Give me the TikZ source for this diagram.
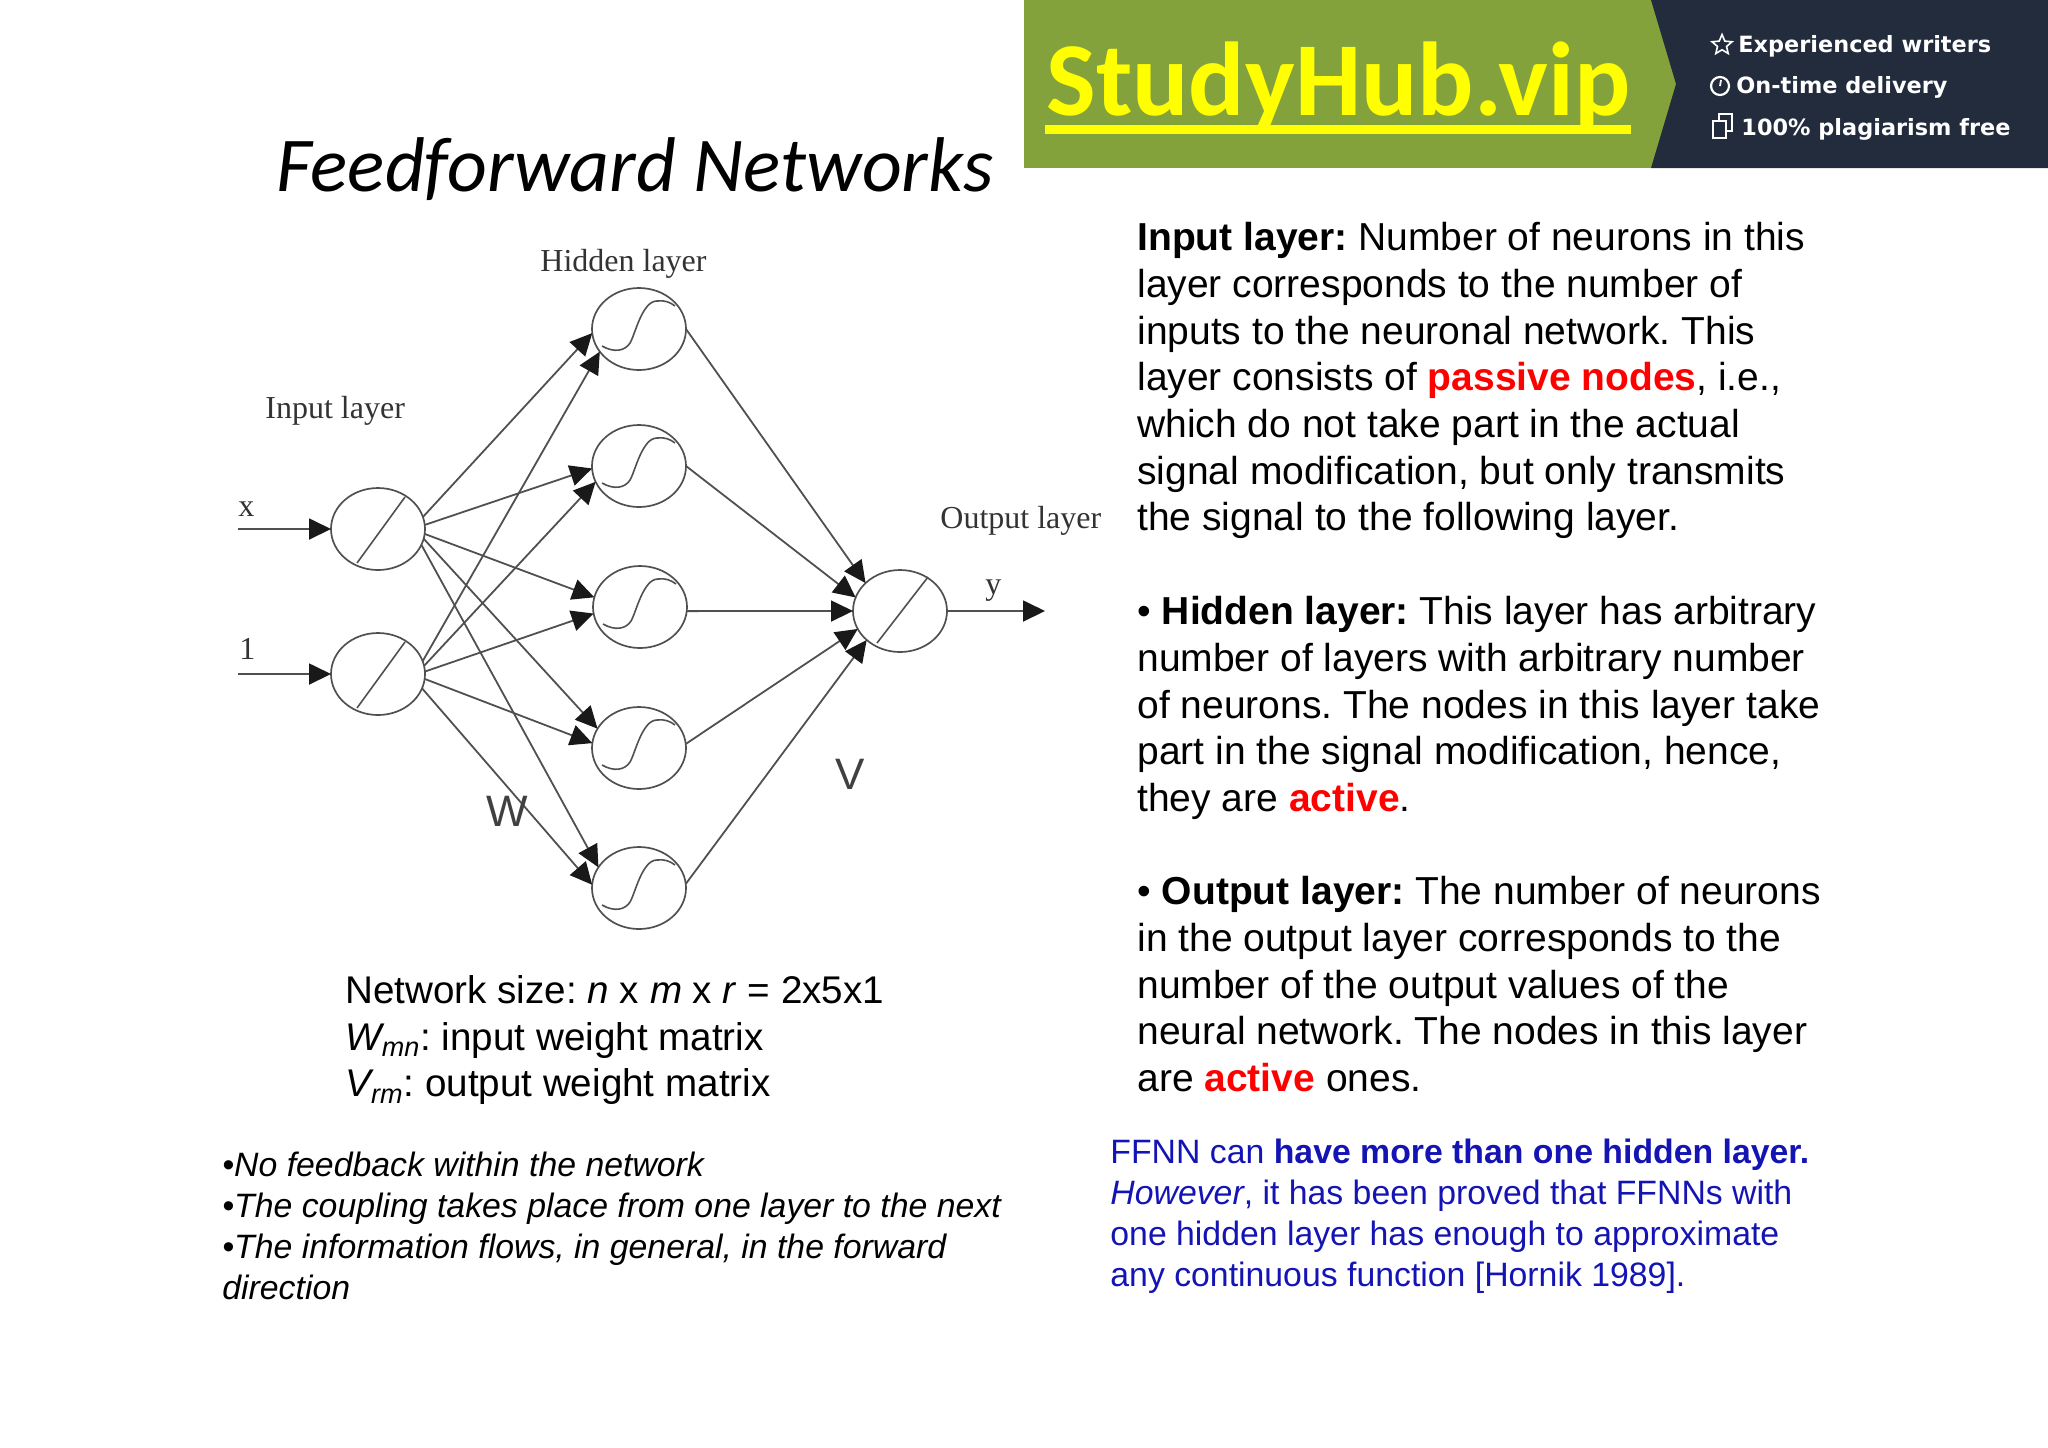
\documentclass[tikz,border=0pt]{standalone}
\usepackage{fontspec}
\usetikzlibrary{arrows.meta,shapes.geometric}
\setmainfont{Liberation Sans}
\newfontfamily\titlefont{Carlito}
\newfontfamily\figfont{Liberation Serif}
\newfontfamily\bannerfont{DejaVu Sans}
\definecolor{bangreen}{HTML}{84A23B}
\definecolor{bandark}{HTML}{232C3C}
\definecolor{bangold}{HTML}{FFFF00}
\definecolor{figgray}{HTML}{505050}
\definecolor{bluetext}{HTML}{1414B4}
\newcommand{\red}[1]{\textcolor{red}{\textbf{#1}}}
\tikzset{
  neuron/.style={draw=figgray,line width=0.85pt,ellipse,minimum width=47pt,minimum height=41pt,inner sep=0pt,outer sep=0pt},
  link/.style={draw=figgray,line width=0.9pt,-{Triangle[length=11pt,width=10.5pt,color=black!90]}},
  figlabel/.style={font=\figfont\fontsize{16}{18}\selectfont,text=black!80,inner sep=0pt,anchor=base west},
  bigletter/.style={font=\fontsize{22}{24}\selectfont,text=black!75,inner sep=0pt,anchor=base west},
  para/.style={font=\fontsize{19.5}{23.35}\selectfont,align=left,inner sep=0pt,anchor=north west},
  small/.style={font=\fontsize{16.9}{20.5}\selectfont,align=left,inner sep=0pt,anchor=north west},
  bantext/.style={font=\bannerfont\bfseries\fontsize{11.2}{13}\selectfont,text=white,inner sep=0pt,anchor=base west},
}
\frenchspacing
\begin{document}
\begin{tikzpicture}[x=0.5pt,y=-0.5pt]
\useasboundingbox (0,0) rectangle (2048,1447);
% banner
\fill[bangreen] (1024,0) rectangle (2048,168);
\fill[bandark] (1651,0) -- (1676,84) -- (1651,168) -- (2048,168) -- (2048,0) -- cycle;
\node[inner sep=0pt,anchor=base west,text=bangold,font=\titlefont\bfseries\fontsize{52.5}{56}\selectfont] (brand) at (1046,115) {StudyHub.vip};
\fill[bangold] (1045,125) rectangle (1631,134);
\node[bantext] (b1) at (1738,52) {Experienced writers};
\node[bantext] (b2) at (1736,93) {On-time delivery};
\node[bantext] (b3) at (1741,135) {100\% plagiarism free};
\node[star,star points=5,star point ratio=2.2,draw=white,line width=0.8pt,minimum size=10.5pt,inner sep=0pt] (bi1) at (1722,45) {};
\node[circle,draw=white,line width=1.1pt,minimum size=9pt,inner sep=0pt] (bi2) at (1720,86) {};
\draw[white,line width=0.9pt] (1720,86) -- (1721,80);
\draw[white,line width=0.8pt] (1713,121) rectangle (1726,138);
\draw[white,line width=0.8pt] (1719,121) -- (1719,114) -- (1732,114) -- (1732,131) -- (1726,131);
% title
\node[inner sep=0pt,anchor=base west,font=\titlefont\itshape\fontsize{38.8}{42}\selectfont] (title) at (276,191) {Feedforward Networks};
% network nodes
\node[neuron] (i1) at (378,529) {};
\node[neuron] (i2) at (378,674) {};
\node[neuron] (h1) at (639,329) {};
\node[neuron] (h2) at (639,466) {};
\node[neuron] (h3) at (640,607) {};
\node[neuron] (h4) at (639,748) {};
\node[neuron] (h5) at (639,888) {};
\node[neuron] (o) at (900,611) {};
\coordinate (inx) at (238,529);
\coordinate (inone) at (238,674);
\coordinate (outy) at (1045,611);
% slashes and sigmoids
\foreach \n in {i1,i2} \draw[figgray,line width=0.8pt,shift={(\n.center)}] (-21,34) -- (27,-32);
\draw[figgray,line width=0.8pt,shift={(o.center)}] (-23,32) -- (28,-34);
\foreach \n in {h1,h2,h3,h4,h5}
  \draw[figgray,line width=0.8pt,shift={(\n.center)}] (-37,17) .. controls (-25,24) and (-14,22) .. (-9,14) .. controls (-4,6) and (3,-28) .. (18,-28) .. controls (25,-29) and (31,-27) .. (36,-23);
% connectors
\draw[link] (inx) -- (i1);
\draw[link] (inone) -- (i2);
\draw[link] (i1.15) -- (h1.185);
\draw[link] (i1.5) -- (h2.183);
\draw[link] (i1.-6) -- (h3.168);
\draw[link] (i1.-12) -- (h4.155);
\draw[link] (i1.-20) -- (h5.153);
\draw[link] (i2.16) -- (h1.210);
\draw[link] (i2.10) -- (h2.200);
\draw[link] (i2.3) -- (h3.188);
\draw[link] (i2.-6) -- (h4.174);
\draw[link] (i2.-18) -- (h5.176);
\draw[link] (h1.east) -- (o.141);
\draw[link] (h2.east) -- (o.163);
\draw[link] (h3.-5) -- (o.west);
\draw[link] (h4.5) -- (o.203);
\draw[link] (h5.5) -- (o.221);
\draw[link] (o.east) -- (outy);
% figure labels
\node[figlabel] (lh) at (540,271) {Hidden layer};
\node[figlabel] (li) at (265,418) {Input layer};
\node[figlabel] (lo) at (940,528) {Output layer};
\node[figlabel] (lx) at (238,516) {x};
\node[figlabel] (lone) at (239,659) {1};
\node[figlabel] (ly) at (985,594) {y};
\node[bigletter] (lw) at (486,826) {W};
\node[bigletter] (lv) at (835,789) {V};
% caption
\node[para,font=\fontsize{19.3}{23.35}\selectfont] (size) at (345,975) {Network size: \textit{n} x \textit{m} x \textit{r} = 2x5x1\\
\textit{W\textsubscript{mn}}: input weight matrix\\
\textit{V\textsubscript{rm}}: output weight matrix};
\node[small,font=\itshape\fontsize{16.9}{20.5}\selectfont] (notes) at (222,1152) {•No feedback within the network\\
•The coupling takes place from one layer to the next\\
•The information flows, in general, in the forward\\
direction};
% right column
\node[para] (input) at (1137,222) {\textbf{Input layer:} Number of neurons in this\\
layer corresponds to the number of\\
inputs to the neuronal network. This\\
layer consists of \red{passive nodes}, i.e.,\\
which do not take part in the actual\\
signal modification, but only transmits\\
the signal to the following layer.};
\node[para] (hidden) at (1137,596) {• \textbf{Hidden layer:} This layer has arbitrary\\
number of layers with arbitrary number\\
of neurons. The nodes in this layer take\\
part in the signal modification, hence,\\
they are \red{active}.};
\node[para] (output) at (1137,876) {• \textbf{Output layer:} The number of neurons\\
in the output layer corresponds to the\\
number of the output values of the\\
neural network. The nodes in this layer\\
are \red{active} ones.};
\node[small,text=bluetext] (ffnn) at (1110,1139) {FFNN can \textbf{have more than one hidden layer.}\\
\textit{However}, it has been proved that FFNNs with\\
one hidden layer has enough to approximate\\
any continuous function [Hornik 1989].};
\end{tikzpicture}
\end{document}
